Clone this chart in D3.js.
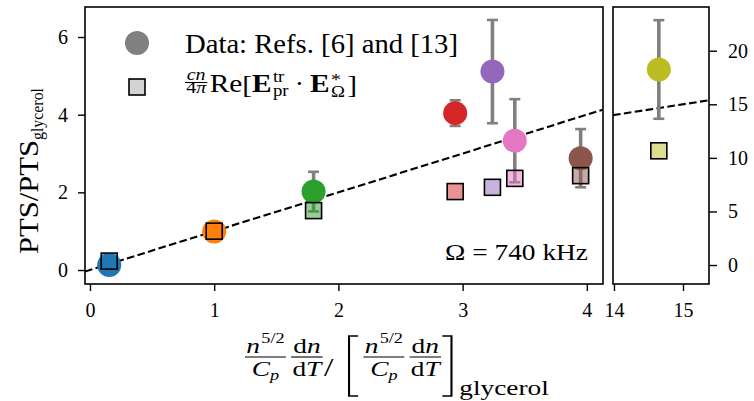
<!DOCTYPE html>
<html><head><meta charset="utf-8">
<script src="https://cdn.jsdelivr.net/npm/d3@7"></script>
<style>
html,body{margin:0;padding:0;background:#fff;}
svg{display:block;}
text{font-family:"Liberation Serif","DejaVu Serif",serif;fill:#000;}
</style></head>
<body><div id="chart"></div>
<script>
// ---------- data ----------
const liquids = ["blue", "orange", "green", "red", "purple", "pink", "brown"];
const colors = ["#1f77b4", "#ff7f0e", "#2ca02c", "#d62728", "#9467bd", "#e377c2", "#8c564b"];
const xRatio = [0.155, 1.0, 1.80, 2.94, 3.24, 3.42, 3.95];
const ptsData = [0.13, 0.99, 2.02, 4.04, 5.11, 3.33, 2.88];
const ptsErr = [0, 0, 0.51, 0.33, 1.33, 1.07, 0.75];
const ptsTheory = [0.23, 1.0, 1.53, 2.02, 2.13, 2.36, 2.43];
// right panel (broken axis)
const xRatioR = [14.65];
const ptsDataR = [18.25];
const ptsErrR = [4.6];
const ptsTheoryR = [10.66];
const colorsR = ["#bcbd22"];
// ticks
const xTicksL = [0, 1, 2, 3, 4];
const yTicksL = [0, 2, 4, 6];
const xTicksR = [14, 15];
const yTicksR = [0, 5, 10, 15, 20];

const W = 754, H = 401;
const svg = d3.select("#chart").append("svg").attr("width", W).attr("height", H);

const xL = d3.scaleLinear().domain([-0.04, 4.13]).range([85, 603]);
const yL = d3.scaleLinear().domain([-0.36, 6.773]).range([284, 7]);
const xR = d3.scaleLinear().domain([13.986, 15.377]).range([613, 709]);
const yR = d3.scaleLinear().domain([-1.77, 24.08]).range([284, 7]);

const defs = svg.append("defs");
defs.append("clipPath").attr("id", "clipL").append("rect")
  .attr("x", 85).attr("y", 7).attr("width", 518).attr("height", 277);
defs.append("clipPath").attr("id", "clipR").append("rect")
  .attr("x", 613).attr("y", 7).attr("width", 96).attr("height", 277);

function panel(x, y, clip, xs, data, err, theory, cols) {
  const g = svg.append("g").attr("clip-path", `url(#${clip})`);
  const dom = x.domain();
  g.append("line")
    .attr("x1", x(dom[0])).attr("y1", y(dom[0]))
    .attr("x2", x(dom[1])).attr("y2", y(dom[1]))
    .attr("stroke", "#000").attr("stroke-width", 2.1)
    .attr("stroke-dasharray", "7.6,3.4");
  xs.forEach((v, i) => {
    if (!err[i]) return;
    const cx = x(v), t = y(data[i] + err[i]), b = y(data[i] - err[i]);
    g.append("line").attr("x1", cx).attr("x2", cx).attr("y1", t).attr("y2", b)
      .attr("stroke", "#808080").attr("stroke-width", 3.6);
    [t, b].forEach(yy => g.append("line").attr("x1", cx - 5.5).attr("x2", cx + 5.5)
      .attr("y1", yy).attr("y2", yy).attr("stroke", "#808080").attr("stroke-width", 2.6));
  });
  g.selectAll("circle.d").data(xs).enter().append("circle")
    .attr("cx", d => x(d)).attr("cy", (d, i) => y(data[i])).attr("r", 12)
    .attr("fill", (d, i) => cols[i]);
  const s = 16;
  g.selectAll("rect.t").data(xs).enter().append("rect")
    .attr("x", d => x(d) - s / 2).attr("y", (d, i) => y(theory[i]) - s / 2)
    .attr("width", s).attr("height", s)
    .attr("fill", (d, i) => cols[i]).attr("fill-opacity", 0.5)
    .attr("stroke", "#000").attr("stroke-width", 1.6);
}
panel(xL, yL, "clipL", xRatio, ptsData, ptsErr, ptsTheory, colors);
panel(xR, yR, "clipR", xRatioR, ptsDataR, ptsErrR, ptsTheoryR, colorsR);

[[85, 7, 518, 277], [613, 7, 96, 277]].forEach(r => svg.append("rect")
  .attr("x", r[0]).attr("y", r[1]).attr("width", r[2]).attr("height", r[3])
  .attr("fill", "none").attr("stroke", "#000").attr("stroke-width", 1.6));

function styleAxis(g) {
  g.select(".domain").remove();
  g.selectAll(".tick line").attr("stroke", "#000").attr("stroke-width", 1.4);
  g.selectAll(".tick text").attr("font-size", 20)
    .attr("font-family", '"Liberation Serif","DejaVu Serif",serif').attr("fill", "#000");
}
svg.append("g").attr("transform", "translate(85,0)")
  .call(d3.axisLeft(yL).tickValues(yTicksL).tickSize(7).tickPadding(10).tickFormat(d3.format("d")))
  .call(styleAxis);
svg.append("g").attr("transform", "translate(0,284)")
  .call(d3.axisBottom(xL).tickValues(xTicksL).tickSize(7).tickPadding(12).tickFormat(d3.format("d")))
  .call(styleAxis);
svg.append("g").attr("transform", "translate(0,284)")
  .call(d3.axisBottom(xR).tickValues(xTicksR).tickSize(7).tickPadding(12).tickFormat(d3.format("d")))
  .call(styleAxis);
svg.append("g").attr("transform", "translate(709,0)")
  .call(d3.axisRight(yR).tickValues(yTicksR).tickSize(8).tickPadding(11).tickFormat(d3.format("d")))
  .call(styleAxis);

// ---------- math text flow helper ----------
function txt(g, x, y, p) {
  const t = g.append("text").attr("x", x).attr("y", y).attr("font-size", p.s).text(p.t);
  if (p.it) t.attr("font-style", "italic");
  if (p.b) t.attr("font-weight", "bold");
  return t.node().getComputedTextLength();
}
function row(g, x0, y, items) {
  let x = x0;
  items.forEach(it => {
    if (it.frac) {
      const gN = g.append("g"), gD = g.append("g");
      const wN = row(gN, 0, y + it.nd, it.num), wD = row(gD, 0, y + it.dd, it.den);
      const w = Math.max(wN, wD) + 2 * (it.pad || 0);
      gN.attr("transform", `translate(${x + (w - wN) / 2},0)`);
      gD.attr("transform", `translate(${x + (w - wD) / 2},0)`);
      g.append("line").attr("x1", x).attr("x2", x + w).attr("y1", y + it.bd).attr("y2", y + it.bd)
        .attr("stroke", "#000").attr("stroke-width", 1.1);
      x += w + (it.gap || 0);
    } else if (it.stack) {
      const ws = it.stack.map(p => txt(g, x, y + (p.dy || 0), p));
      x += Math.max(...ws) + (it.gap || 0);
    } else if (it.br) {
      const d = it.br === "l" ? 1 : -1, xx = it.br === "l" ? x : x + it.w;
      g.append("path").attr("d", `M${xx + d * it.w},${y + it.y1} H${xx} V${y + it.y2} H${xx + d * it.w}`)
        .attr("fill", "none").attr("stroke", "#000").attr("stroke-width", 1.6);
      x += it.w + (it.gap || 0);
    } else {
      x += txt(g, x, y + (it.dy || 0), it) + (it.gap || 0);
    }
  });
  return x - x0;
}
function mathAt(x0, y, items, targetW) {
  const g = svg.append("g");
  const w = row(g, 0, y, items);
  const sx = targetW ? targetW / w : 1;
  g.attr("transform", `translate(${x0},0) scale(${sx},1)`);
  return g;
}

// legend
svg.append("circle").attr("cx", 137).attr("cy", 43).attr("r", 12).attr("fill", "#808080");
svg.append("rect").attr("x", 129).attr("y", 79).attr("width", 16).attr("height", 16)
  .attr("fill", "#d3d3d3").attr("stroke", "#000").attr("stroke-width", 1.6);
svg.append("text").attr("x", 185).attr("y", 53).attr("font-size", 27)
  .attr("textLength", 273).attr("lengthAdjust", "spacingAndGlyphs")
  .text("Data: Refs. [6] and [13]");

mathAt(185, 92, [
  {frac: true, num: [{t: "cn", s: 17, it: true}], den: [{t: "4", s: 17}, {t: "π", s: 17, it: true}],
   nd: -11.5, dd: 1.5, bd: -9.5, pad: 1, gap: 2},
  {t: "Re", s: 25},
  {t: "[", s: 25, dy: 1},
  {t: "E", s: 25, b: true, gap: 1},
  {stack: [{t: "tr", s: 16, dy: -10}, {t: "pr", s: 16, dy: 4}], gap: 5},
  {t: "·", s: 25, gap: 5},
  {t: "E", s: 25, b: true, gap: 1},
  {stack: [{t: "*", s: 17, dy: -7}, {t: "Ω", s: 16, dy: 5}], gap: 2},
  {t: "]", s: 25, dy: 1}
], 172);

// annotation
svg.append("text").attr("x", 445).attr("y", 260).attr("font-size", 23)
  .attr("textLength", 143).attr("lengthAdjust", "spacingAndGlyphs").text("Ω = 740 kHz");

// y label
const yl = svg.append("text").attr("transform", "translate(38,254) rotate(-90)").attr("font-size", 27);
yl.append("tspan").attr("textLength", 114).attr("lengthAdjust", "spacingAndGlyphs").text("PTS/PTS");
yl.append("tspan").attr("dy", 5).attr("font-size", 17)
  .attr("textLength", 52).attr("lengthAdjust", "spacingAndGlyphs").text("glycerol");

// x label
const nFrac = () => ({frac: true,
  num: [{t: "n", s: 21, it: true, gap: 1}, {t: "5/2", s: 14, dy: -10}],
  den: [{t: "C", s: 21, it: true}, {t: "p", s: 14, it: true, dy: 4}],
  nd: -11, dd: 12, bd: -7, pad: 1, gap: 4});
const dFrac = () => ({frac: true,
  num: [{t: "d", s: 21}, {t: "n", s: 21, it: true}],
  den: [{t: "d", s: 21}, {t: "T", s: 21, it: true}],
  nd: -11, dd: 12, bd: -7, pad: 1, gap: 1});
mathAt(245, 364, [
  nFrac(), dFrac(),
  {t: "/", s: 26, dy: 12, gap: 12},
  {br: "l", w: 7, y1: -28, y2: 32, gap: 4},
  nFrac(), dFrac(),
  {br: "r", w: 7, y1: -28, y2: 32, gap: 6},
  {t: "glycerol", s: 21, dy: 31}
], 304);
</script></body></html>
